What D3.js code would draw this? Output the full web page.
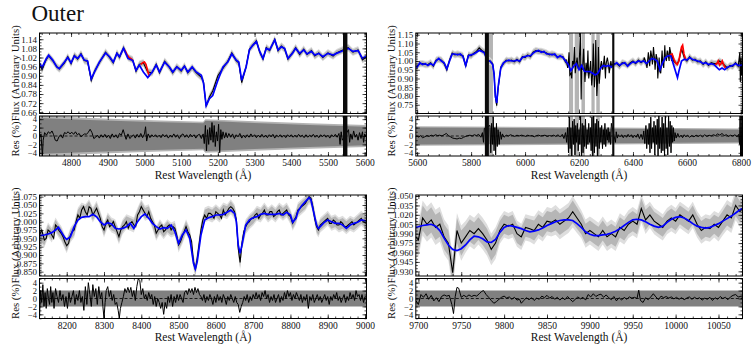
<!DOCTYPE html>
<html>
<head>
<meta charset="utf-8">
<script src="https://cdn.jsdelivr.net/npm/d3@7"></script>
<style>
  body { margin: 0; background: #fff; }
</style>
</head>
<body>
<div id="chart"></div>
<script>
// ---------- values ----------

// panel 1 : 4712 - 5605 A
const p1Wave = [
  4712,4721,4732,4739,4750,4761,4768,4782,4791,4800,
  4809,4818,4827,4836,4845,4855,4864,4877,4894,4905,
  4915,4925,4932,4943,4955,4968,4977,4986,4997,5009,
  5021,5032,5041,5055,5068,5077,5088,5100,5109,5118,
  5130,5141,5155,5161,5168,5177,5186,5200,5214,5227,
  5238,5250,5257,5265,5277,5286,5295,5305,5314,5323,
  5332,5341,5355,5364,5373,5382,5391,5403,5412,5423,
  5434,5443,5455,5464,5475,5486,5500,5514,5523,5536,
  5555,5568,5582,5594,5605];
const p1Model = [
  0.99,0.955,1.01,1.035,1.003,0.958,0.947,0.99,1.02,0.985,
  1.03,1.014,1.04,1.003,0.998,0.88,0.925,0.99,1.05,1.025,
  0.99,1.047,1.025,1.08,1.014,1.0,0.936,0.97,0.925,0.888,
  0.925,0.97,0.925,0.99,0.958,0.925,0.958,0.936,0.963,0.925,
  0.958,0.925,0.903,0.85,0.704,0.75,0.77,0.87,0.958,0.99,
  1.043,1.003,0.99,0.87,0.958,1.07,1.10,1.125,1.06,1.014,
  1.08,1.07,1.135,1.07,1.09,1.08,1.014,1.047,1.08,1.047,
  1.07,1.043,1.06,1.036,1.047,1.025,1.047,1.036,1.047,1.06,
  1.08,1.06,1.065,1.014,1.03];
const p1Flux = [
  0.985,0.94,1.005,1.03,1.0,0.96,0.945,0.985,1.025,0.98,
  1.035,1.01,1.045,1.0,0.995,0.87,0.93,0.985,1.055,1.02,
  0.985,1.05,1.02,1.085,1.02,1.005,0.93,0.975,0.985,0.925,
  0.92,0.975,0.92,0.995,0.955,0.92,0.96,0.93,0.965,0.92,
  0.955,0.92,0.89,0.86,0.70,0.76,0.80,0.90,0.95,0.995,
  1.05,1.0,0.985,0.855,0.96,1.075,1.10,1.13,1.055,1.01,
  1.085,1.065,1.14,1.065,1.095,1.075,1.01,1.05,1.085,1.04,
  1.075,1.04,1.065,1.03,1.05,1.02,1.05,1.03,1.05,1.065,
  1.085,1.055,1.07,1.005,1.025];
const p1Red = [
  [[4946,1.07],[4952,1.04],[4958,1.02],[4964,1.01],[4968,1.002]],
  [[4990,0.975],[4995,0.985],[5000,0.99],[5004,0.975],[5009,0.93],[5014,0.895]]];
const p1Bad = [[5541,5553]];
const p1Band = [[4712,4.3,4.9],[4850,3.8,4.3],[5000,3.4,3.8],[5160,3.0,3.4],[5166,3.6,4.0],
  [5300,3.1,3.5],[5450,2.6,3.0],[5605,2.2,2.6]];
const p1Res = [
  [4714,-0.5],[4718,0.5],[4722,-4.9],[4724,-1],[4728,0.8],[4733,0.2],[4738,1.0],[4743,0.6],[4748,1.2],[4752,0.4],
  [4757,-1.0],[4762,-1.2],[4767,-0.2],[4772,0.3],[4777,-0.5],[4782,0.8],[4787,0.6],[4792,1.0],[4797,0.5],[4802,0.9],
  [4807,0.4],[4812,1.0],[4817,0.3],[4822,0.6],[4827,-0.2],[4832,0.2],[4837,0.5],[4842,0.4],[4847,0.9],[4852,1.6],
  [4857,0.8],[4862,-0.6],[4867,-0.3],[4872,0.2],[4877,-0.5],[4882,0.3],[4887,-0.3],[4892,0.4],[4897,-0.4],[4902,0.2],
  [4907,-0.6],[4912,0.5],[4917,-0.3],[4922,0.3],[4927,-0.5],[4932,0.6],[4937,0.2],[4942,1.5],[4946,0.3],[4950,-0.8],
  [4955,0.5],[4960,-0.6],[4965,-0.2],[4970,0.3],[4975,-0.5],[4980,0.4],[4985,-0.3],[4990,0.6],[4995,-0.4],[5000,0.5],
  [5003,2.2],[5006,-1.2],[5010,0.5],[5015,-0.4],[5020,0.3],[5025,-0.2],[5030,0.3],[5035,-0.3],[5040,0.2],[5045,-0.4],
  [5050,0.4],[5055,-0.2],[5060,0.3],[5065,-0.5],[5070,0.2],[5075,-0.3],[5080,0.5],[5085,-0.3],[5090,0.3],[5095,-0.6],
  [5100,0.2],[5105,0.5],[5110,-0.3],[5115,0.3],[5120,-0.4],[5125,0.4],[5130,-0.2],[5135,0.3],[5140,-0.5],[5145,0.2],
  [5150,0.4],[5155,-0.6],[5160,0.5],[5163,-1.8],[5166,2.5],[5169,-3.5],[5172,1.5],[5175,-2.0],[5178,2.0],[5181,-1.0],
  [5184,3.2],[5187,-1.5],[5190,2.5],[5193,-2.5],[5196,1.0],[5199,-1.2],[5202,2.8],[5205,-4.0],[5208,1.5],[5211,-0.8],
  [5214,1.0],[5218,-0.5],[5222,0.8],[5226,-0.4],[5230,0.6],[5235,-0.3],[5240,0.5],[5245,-0.6],[5250,0.3],[5255,-0.2],
  [5260,0.6],[5265,-0.5],[5270,0.2],[5275,-0.4],[5280,0.3],[5285,-0.3],[5290,0.5],[5295,-0.2],[5300,0.3],[5305,-0.4],
  [5310,0.2],[5315,-0.3],[5320,0.4],[5325,-0.3],[5330,0.2],[5335,-0.4],[5340,0.3],[5345,-0.2],[5350,0.4],[5355,-0.5],
  [5360,0.2],[5365,-0.2],[5370,0.3],[5375,-0.3],[5380,0.2],[5385,-0.4],[5390,0.3],[5395,-0.2],[5400,0.3],[5405,-0.3],
  [5410,0.2],[5415,-0.3],[5420,0.4],[5425,-0.2],[5430,0.2],[5435,-0.4],[5440,0.3],[5445,-0.3],[5450,0.2],[5455,-0.2],
  [5460,0.4],[5465,-0.3],[5470,0.2],[5475,-0.4],[5480,0.3],[5485,-0.2],[5490,0.3],[5495,-0.3],[5500,0.2],[5505,-0.5],
  [5510,0.3],[5515,-0.2],[5520,0.4],[5525,-0.3],[5530,0.6],[5533,-2.0],[5536,1.0],[5539,-1.0],[5556,1.5],[5559,-1.5],
  [5562,0.5],[5566,-0.8],[5570,1.2],[5574,-0.3],[5578,0.4],[5582,-1.0],[5586,0.8],[5590,-0.6],[5594,1.0],[5597,-1.5],
  [5600,0.5],[5604,-0.2]];
const p1XTicks = [4800,4900,5000,5100,5200,5300,5400,5500,5600];
const p1YTicks = [0.66,0.72,0.78,0.84,0.90,0.96,1.02,1.08,1.14];

// panel 2 : 5595 - 6806 A
const p2Wave = [
  5595,5600,5610,5620,5630,5640,5650,5660,5670,5680,
  5690,5700,5710,5720,5730,5740,5750,5760,5770,5780,
  5790,5800,5810,5820,5830,5840,5850,5860,5870,5880,
  5885,5890,5895,5900,5910,5920,5930,5940,5950,5960,
  5970,5980,5990,6000,6010,6020,6030,6040,6050,6060,
  6070,6080,6090,6100,6110,6120,6130,6140,6150,6160,
  6170,6180,6190,6200,6210,6220,6230,6240,6250,6260,
  6270,6280,6290,6300,6310,6320,6330,6340,6350,6360,
  6370,6380,6390,6400,6410,6420,6430,6440,6450,6460,
  6470,6480,6490,6500,6510,6520,6530,6540,6550,6560,
  6565,6570,6580,6590,6600,6610,6620,6630,6640,6650,
  6660,6670,6680,6690,6700,6710,6720,6730,6740,6750,
  6760,6770,6780,6790,6800,6806];
const p2Model = [
  0.97,0.965,0.99,0.98,0.985,0.975,0.985,0.975,1.0,1.015,
  1.0,0.99,0.955,1.0,1.04,1.04,1.035,1.04,1.025,0.975,
  1.03,1.035,1.04,1.05,1.06,1.055,1.045,1.0,1.0,0.98,
  0.93,0.80,0.76,0.85,0.96,0.99,1.0,1.005,1.0,1.0,
  1.005,1.0,1.02,1.025,1.03,1.03,1.045,1.055,1.06,1.05,
  1.055,1.04,1.04,1.035,1.04,1.02,1.03,1.02,1.0,0.98,
  0.945,0.97,0.985,0.95,0.975,0.94,0.94,0.94,0.93,0.92,
  0.93,0.96,0.975,0.97,0.975,0.965,0.98,0.99,0.975,0.985,
  0.99,0.97,0.985,0.995,0.99,1.0,0.995,1.0,0.985,1.0,
  1.015,1.01,1.0,0.95,0.99,1.02,1.03,1.03,0.98,0.93,
  0.905,0.94,1.0,1.01,1.005,1.02,1.01,1.005,1.0,0.995,
  0.985,0.99,0.98,0.985,0.98,0.965,0.95,0.96,0.95,0.965,
  0.97,0.975,0.985,0.975,0.975,0.98];
const p2Flux = [
  0.965,0.97,0.985,0.985,0.98,0.98,0.99,0.97,1.005,1.01,
  1.005,0.985,0.95,1.005,1.045,1.035,1.04,1.035,1.03,0.97,
  1.035,1.03,1.045,1.055,1.075,1.06,1.05,1.0,1.0,0.985,
  0.925,0.79,0.745,0.84,0.965,0.985,1.005,1.0,1.005,0.995,
  1.01,0.995,1.025,1.02,1.035,1.025,1.05,1.06,1.055,1.055,
  1.05,1.045,1.035,1.04,1.035,1.025,1.025,1.025,0.995,0.985,
  0.93,0.98,0.99,0.96,0.97,0.95,0.93,0.95,0.92,0.93,
  0.92,0.97,0.97,0.98,0.97,0.975,0.985,0.985,0.97,0.99,
  0.985,0.975,0.99,1.0,0.985,1.005,0.99,1.005,0.98,1.005,
  1.02,1.005,1.005,0.94,1.0,1.025,1.04,1.045,1.0,0.985,
  0.99,1.0,1.07,1.02,1.0,1.025,1.005,1.01,0.995,1.0,
  0.98,0.995,0.975,0.99,0.985,0.985,1.0,0.99,0.975,0.96,
  0.975,0.97,0.99,0.97,0.98,0.95];
const p2Spikes = [
  [6152,1.01],[6158,0.96],[6163,1.05],[6166,0.92],[6173,0.90],[6176,1.0],[6183,1.08],[6186,0.93],
  [6193,1.02],[6196,0.96],[6205,1.16],[6208,0.78],[6213,0.95],[6217,1.07],[6222,0.88],[6226,0.99],
  [6233,1.06],[6236,0.90],[6243,1.0],[6247,0.86],[6253,1.10],[6257,0.85],[6262,1.12],[6266,0.80],
  [6272,1.08],[6275,0.87],[6283,1.0],[6287,0.95],[6294,1.03],[6298,0.90],[6305,1.02],[6312,0.93],
  [6318,1.0],[6442,1.02],[6452,0.96],[6457,1.05],[6462,0.97],[6466,1.06],[6472,0.98],[6476,1.08],
  [6482,0.95],[6486,1.04],[6492,0.90],[6497,1.02],[6503,0.93],[6508,1.06],[6514,0.96],[6518,1.09],
  [6524,1.0],[6527,1.06],[6534,1.0],[6536,1.08],[6543,1.0],[6546,1.04],[6796,1.05],[6798,0.88],
  [6801,1.02],[6803,0.92]];
const p2Red = [
  [[6535,1.03],[6545,1.04],[6552,1.01],[6558,0.99],[6564,0.98],[6570,1.0],[6576,1.05],[6580,1.08],
   [6584,1.09],[6589,1.04],[6595,1.01],[6600,1.005]],
  [[6705,0.98],[6711,0.985],[6716,1.0],[6721,0.975],[6727,0.985],[6731,1.0],[6736,0.98],[6742,0.96]]];
const p2Mask = [[5866,5881],[6163,6178],[6184,6200],[6209,6222],[6246,6258],[6264,6277]];
const p2Bad = [[5851,5866],[6323,6331]];
const p2Band = [[5595,2.0,2.3],[6200,1.8,2.1],[6806,1.5,1.8]];
const p2Res = [
  [5598,0.2],[5605,-0.3],[5612,0.1],[5620,-0.4],[5628,-0.2],[5636,0.1],[5644,-0.1],[5652,0.2],[5660,0.0],[5668,0.3],
  [5676,0.1],[5684,0.2],[5692,0.0],[5700,0.3],[5708,0.6],[5716,0.1],[5724,-0.2],[5732,-0.5],[5740,-0.6],[5748,-0.7],
  [5756,-0.5],[5764,-0.6],[5772,-0.3],[5780,-0.1],[5788,0.1],[5796,0.2],[5804,0.0],[5812,0.3],[5820,0.1],[5828,0.4],
  [5836,-0.3],[5842,0.8],[5846,-1.5],[5849,1.8],[5870,2.5],[5873,-4],[5876,3],[5879,-2],[5882,4.5],[5885,-3.5],
  [5888,2],[5891,-4.5],[5894,3],[5897,-2.5],[5900,1.5],[5904,-2],[5908,1],[5912,-0.8],[5916,0.5],[5922,-0.3],
  [5930,0.2],[5938,0.0],[5946,0.3],[5954,0.1],[5962,-0.1],[5970,0.2],[5978,0.0],[5986,0.2],[5994,0.1],[6002,-0.1],
  [6010,0.2],[6018,0.0],[6026,0.1],[6034,-0.2],[6042,0.1],[6050,0.2],[6058,0.0],[6066,0.1],[6074,0.2],[6082,-0.1],
  [6090,0.1],[6098,0.0],[6106,0.2],[6114,-0.1],[6122,0.3],[6130,-0.2],[6138,0.4],[6144,-0.6],[6150,0.8],[6154,-1.5],
  [6158,2],[6161,-4],[6164,4.5],[6167,-3],[6170,2],[6173,-5],[6176,3.5],[6179,-2],[6182,4],[6185,-4.5],
  [6188,2.5],[6191,-1.5],[6194,3],[6197,-3.5],[6200,1.5],[6203,-2],[6206,5],[6209,-5],[6212,3],[6215,-4],
  [6218,2.5],[6221,-2.5],[6224,4],[6227,-3],[6230,1.5],[6233,-2],[6236,3],[6239,-1.5],[6242,2],[6245,-3.5],
  [6248,4.5],[6251,-5],[6254,5],[6257,-4],[6260,3],[6263,-2.5],[6266,4],[6269,-5],[6272,3.5],[6275,-3],
  [6278,2],[6281,-1.5],[6284,2.5],[6287,-3],[6290,1.5],[6293,-2],[6296,3],[6299,-2.5],[6302,1.5],[6305,-1],
  [6308,2],[6311,-1.5],[6314,1],[6317,-2],[6320,3],[6335,-1.5],[6338,1],[6342,-0.5],[6346,0.3],[6352,-0.2],
  [6358,0.3],[6364,-0.4],[6370,0.2],[6376,-0.3],[6382,0.4],[6388,-0.2],[6394,0.3],[6400,-0.4],[6406,0.2],[6412,-0.3],
  [6418,0.5],[6424,-0.6],[6430,0.4],[6436,-0.8],[6440,1.2],[6444,-1.8],[6448,2.5],[6451,-3],[6454,1.5],[6457,-2],
  [6460,3],[6463,-4],[6466,4.5],[6469,-3],[6472,2],[6475,-1.5],[6478,3.5],[6481,-4.5],[6484,2.5],[6487,-2],
  [6490,4],[6493,-5],[6496,5],[6499,-3],[6502,2],[6505,-4],[6508,4.5],[6511,-3.5],[6514,3],[6517,-5],
  [6520,5],[6523,-3],[6526,2],[6529,-4.5],[6532,5],[6535,-2.5],[6538,3.5],[6541,-4],[6544,2.5],[6547,-1.5],
  [6550,2],[6553,-1.2],[6556,0.8],[6560,-0.5],[6566,0.6],[6572,-0.3],[6578,0.2],[6584,-0.4],[6590,0.3],[6596,-0.2],
  [6602,0.2],[6610,-0.3],[6618,0.1],[6626,-0.2],[6634,0.2],[6642,-0.1],[6650,0.2],[6658,-0.2],[6666,0.3],[6674,-0.1],
  [6682,0.2],[6690,0.0],[6698,0.3],[6706,0.1],[6714,0.5],[6722,0.2],[6730,0.6],[6738,0.1],[6746,0.3],[6754,-0.1],
  [6762,0.2],[6770,0.0],[6778,0.3],[6786,-0.2],[6792,0.4],[6795,-2],[6797,5],[6799,-5],[6801,5],[6803,-5],[6805,3]];
const p2XTicks = [5600,5800,6000,6200,6400,6600,6800];
const p2YTicks = [0.75,0.80,0.85,0.90,0.95,1.00,1.05,1.10,1.15];

// panel 3 : 8127 - 9004 A
const p3Wave = [
  8127,8140,8150,8160,8170,8178,8185,8195,8200,8210,
  8220,8230,8240,8250,8260,8270,8280,8290,8300,8310,
  8320,8330,8340,8350,8360,8370,8380,8390,8400,8410,
  8420,8430,8440,8450,8460,8470,8480,8490,8500,8510,
  8520,8530,8540,8545,8550,8560,8570,8580,8590,8600,
  8610,8620,8630,8640,8650,8655,8660,8665,8670,8680,
  8690,8700,8710,8720,8730,8740,8750,8760,8770,8780,
  8790,8800,8806,8815,8820,8830,8840,8850,8855,8860,
  8870,8875,8880,8890,8900,8910,8920,8930,8940,8950,
  8960,8970,8980,8990,9004];
const p3Model = [
  0.958,0.96,0.963,0.967,0.975,0.983,0.97,0.952,0.947,0.955,
  0.985,1.005,1.013,1.015,1.015,1.022,1.015,1.0,0.99,0.997,
  0.993,0.98,0.978,0.98,0.985,0.995,0.98,1.0,1.015,1.023,
  1.01,0.995,0.985,0.978,0.982,0.98,0.99,0.97,0.935,0.96,
  0.975,0.95,0.875,0.858,0.88,0.96,1.005,1.012,1.015,1.02,
  1.02,1.022,1.028,1.035,1.025,1.0,0.93,0.905,0.93,0.99,
  1.005,1.012,1.015,1.022,1.025,1.022,1.022,1.022,1.025,1.02,
  1.028,1.02,0.998,1.01,1.03,1.048,1.06,1.072,1.065,1.04,
  0.99,0.98,0.985,0.997,1.005,1.0,0.995,0.995,0.99,0.98,
  0.99,0.995,0.998,1.005,1.002];
const p3Flux = [
  0.96,0.945,0.975,0.96,0.99,0.975,0.965,0.94,0.928,0.96,
  0.975,1.02,1.035,1.03,1.045,1.02,1.04,1.01,0.975,1.005,
  0.99,0.985,0.955,0.985,1.0,0.995,0.99,1.02,1.045,1.025,
  1.03,1.0,0.965,0.985,0.97,0.985,0.975,0.98,0.93,0.955,
  0.985,0.96,0.88,0.856,0.89,0.975,1.02,1.025,1.02,1.03,
  1.02,1.035,1.03,1.045,1.03,1.005,0.92,0.878,0.935,0.985,
  1.0,1.01,1.025,1.02,1.035,1.02,1.03,1.02,1.035,1.025,
  1.035,1.015,0.995,1.015,1.035,1.045,1.055,1.075,1.07,1.045,
  0.985,0.975,0.99,1.0,1.01,0.995,1.0,0.99,0.995,0.985,
  0.995,0.99,1.0,1.01,0.995];
const p3Spikes = [
  [8133,0.975],[8145,0.95],[8155,0.97],[8165,0.95],[8174,0.985],[8190,0.955],[8205,0.935],[8215,0.97],
  [8225,1.0],[8235,1.01],[8245,1.045],[8255,1.02],[8265,1.04],[8275,1.03],[8285,1.025],[8295,0.985],
  [8305,0.995],[8315,0.985],[8325,1.0],[8335,0.97],[8345,0.975],[8355,0.99],[8365,0.98],[8375,1.0],
  [8385,0.985],[8395,1.03],[8405,1.035],[8415,1.015],[8425,1.01],[8435,0.99],[8445,0.975],[8455,0.99],
  [8465,0.975],[8475,0.99],[8485,0.985],[8495,0.96],[8505,0.94],[8515,0.97],[8525,0.97],[8535,0.94],
  [8565,1.005],[8575,1.01],[8585,1.025],[8595,1.01],[8605,1.025],[8615,1.01],[8625,1.02],[8635,1.04],
  [8645,1.04],[8675,0.97],[8685,0.995],[8695,1.01],[8705,1.02],[8715,1.01],[8725,1.025],[8735,1.02],
  [8745,1.03],[8755,1.015],[8765,1.03],[8775,1.02],[8785,1.03],[8795,1.02],[8810,1.005],[8825,1.04],
  [8835,1.05],[8845,1.065],[8865,1.01],[8885,0.995],[8895,1.005],[8905,0.995],[8915,1.005],[8925,0.99],
  [8935,1.0],[8945,0.985],[8955,0.99],[8965,1.0],[8975,0.995],[8985,1.005],[8995,1.0]];
const p3Band = [[8127,2.0,2.0],[9004,2.0,2.0]];
const p3Res = [
  [8127,-4.8],[8130,2],[8133,-1],[8136,3.5],[8139,-2],[8142,1.5],[8145,-2.5],[8148,2.5],[8151,0],[8154,-1.5],
  [8157,3],[8160,-1],[8163,1.5],[8166,-2.5],[8170,2.5],[8174,0.5],[8178,-1],[8182,2],[8186,-0.5],[8190,1],
  [8194,-2],[8198,0.5],[8202,-2.5],[8206,1.5],[8210,-1],[8214,0.5],[8218,2],[8222,-1.5],[8226,1],[8230,-0.5],
  [8234,2],[8238,-1],[8242,0.5],[8246,-3],[8250,3],[8254,-1.5],[8258,4],[8262,1],[8266,-2],[8270,3.5],
  [8274,0.5],[8278,2.5],[8282,-1.5],[8286,3],[8290,0],[8294,1.5],[8297,-2],[8300,-5],[8303,-1],[8306,2],
  [8310,3],[8314,0.5],[8318,2],[8322,-0.5],[8326,1],[8330,-1.5],[8334,-1],[8338,-3],[8341,-5],[8344,-2.5],
  [8348,-1],[8352,0.5],[8356,2.5],[8360,1.5],[8364,2.8],[8368,1.5],[8372,2.8],[8376,0.5],[8380,2],[8384,-0.5],
  [8388,3],[8392,5],[8396,4.5],[8400,1],[8404,2.5],[8408,0],[8412,1],[8416,-0.5],[8420,1.5],[8424,0],
  [8428,1],[8432,-1.5],[8436,0.5],[8440,-2],[8444,0],[8448,-1],[8452,-2.5],[8456,-1],[8460,-4],[8464,-1],
  [8468,-2.5],[8472,0.5],[8476,-1],[8480,1],[8484,-2],[8488,0.5],[8492,-1],[8496,1],[8500,-0.5],[8504,1],
  [8508,0],[8512,-1],[8516,1.5],[8520,2],[8524,1],[8528,2.5],[8532,1.5],[8536,2.5],[8540,1],[8544,2.8],
  [8548,1.5],[8552,2.5],[8556,1],[8560,0.5],[8564,-0.5],[8568,1],[8572,-1],[8576,0.5],[8580,-0.5],[8584,1],
  [8588,0],[8592,-1.5],[8596,0.5],[8600,-1],[8604,1],[8608,-0.5],[8612,0.5],[8616,-1],[8620,1],[8624,0],
  [8628,-1.5],[8632,0.5],[8636,-0.5],[8640,1],[8644,0],[8648,-1],[8652,0.5],[8656,-1],[8660,-1.5],[8664,-3.5],
  [8668,-2],[8672,-1],[8676,0.5],[8680,-0.5],[8684,1],[8688,-1],[8692,0.5],[8696,-0.5],[8700,1],[8704,0],
  [8708,1.5],[8712,0],[8716,1],[8720,-0.5],[8724,1.5],[8728,0.5],[8732,2],[8736,0],[8740,1],[8744,-1],
  [8748,0.5],[8752,-0.5],[8756,1],[8760,-1],[8764,0],[8768,1],[8772,-1],[8776,0.5],[8780,-0.5],[8784,1.5],
  [8788,0],[8792,2],[8796,0.5],[8800,1.5],[8804,-0.5],[8808,1],[8812,0],[8816,1.5],[8820,0.5],[8824,-0.5],
  [8828,1],[8832,-1],[8836,0.5],[8840,-0.5],[8844,1],[8848,-2.5],[8852,0.5],[8856,-0.5],[8860,1],[8864,-1],
  [8868,0],[8872,1],[8876,-0.5],[8880,0.5],[8884,-1],[8888,0],[8892,1],[8896,-0.5],[8900,0.5],[8904,-1.5],
  [8908,0.5],[8912,-0.5],[8916,1],[8920,0],[8924,1.5],[8928,-0.5],[8932,0.5],[8936,-1],[8940,0],[8944,1],
  [8948,-1],[8952,0.5],[8956,-0.5],[8960,1.5],[8964,0],[8968,1],[8972,-0.5],[8976,2],[8980,0.5],[8984,1],
  [8988,-0.5],[8992,1],[8996,-1],[9000,0.5],[9004,0.2]];
const p3XTicks = [8200,8300,8400,8500,8600,8700,8800,8900,9000];
const p3YTicks = [0.850,0.875,0.900,0.925,0.950,0.975,1.000,1.025,1.050,1.075];

// panel 4 : 9697 - 10078 A
const p4Wave = [
  9697,9700,9705,9710,9715,9720,9725,9730,9735,9740,
  9745,9750,9755,9760,9765,9770,9775,9780,9785,9790,
  9795,9800,9805,9810,9815,9820,9825,9830,9835,9840,
  9845,9850,9855,9860,9865,9870,9875,9880,9885,9890,
  9895,9900,9905,9910,9915,9920,9925,9930,9935,9940,
  9945,9950,9955,9960,9965,9970,9975,9980,9985,9990,
  9995,10000,10005,10010,10015,10020,10025,10030,10035,10040,
  10045,10050,10055,10060,10065,10070,10075,10078];
const p4Model = [
  1.000,1.001,1.003,1.004,1.005,1.002,0.995,0.983,0.972,0.965,
  0.963,0.966,0.972,0.980,0.986,0.985,0.982,0.977,0.976,0.981,
  0.992,1.000,1.003,1.002,1.000,0.998,0.995,0.993,0.994,0.996,
  0.999,1.003,1.006,1.009,1.011,1.012,1.012,1.011,1.006,1.000,
  0.993,0.989,0.987,0.987,0.988,0.989,0.991,0.994,0.998,1.003,
  1.008,1.012,1.013,1.012,1.009,1.005,1.002,1.000,1.002,1.008,
  1.013,1.016,1.017,1.015,1.011,1.006,1.002,1.000,0.999,1.000,
  1.003,1.006,1.010,1.014,1.018,1.023,1.028,1.030];
const p4Flux = [
  0.985,0.98,1.015,1.005,1.012,1.0,1.005,0.985,0.975,0.928,
  0.995,0.975,0.985,0.995,0.99,0.998,0.99,0.98,0.965,0.975,
  0.995,1.005,1.002,1.005,0.99,0.985,1.0,0.998,0.995,1.005,
  1.0,1.01,1.008,1.012,1.005,1.01,1.015,1.025,1.015,1.005,
  0.99,0.995,0.99,0.985,0.995,0.985,0.99,0.985,1.0,0.995,
  1.005,1.01,1.005,1.03,1.012,1.02,1.01,1.005,1.0,1.01,
  1.015,1.01,1.02,1.015,1.01,1.02,1.005,0.995,1.0,0.998,
  1.005,1.0,1.01,1.02,1.015,1.035,1.025,1.03];
const p4Err = [
  0.02,0.02,0.02,0.02,0.02,0.02,0.02,0.02,0.02,0.02,
  0.02,0.02,0.018,0.018,0.018,0.018,0.018,0.018,0.018,0.018,
  0.015,0.015,0.015,0.015,0.015,0.015,0.015,0.015,0.016,0.016,
  0.016,0.016,0.016,0.017,0.017,0.017,0.017,0.018,0.017,0.016,
  0.016,0.016,0.016,0.016,0.016,0.016,0.016,0.016,0.016,0.016,
  0.016,0.016,0.016,0.016,0.016,0.015,0.015,0.015,0.015,0.015,
  0.015,0.015,0.015,0.015,0.015,0.015,0.015,0.015,0.015,0.015,
  0.015,0.016,0.016,0.017,0.017,0.017,0.017,0.017];
const p4Band = [[9697,2.0,2.0],[10078,2.0,2.0]];
const p4Res = [
  [9697,-0.5],[9700,-1.5],[9703,1.0],[9706,0.3],[9709,1.2],[9712,-0.2],[9715,0.8],[9718,-0.6],[9721,0.2],[9724,-0.8],
  [9727,0.5],[9730,0.9],[9733,0.6],[9736,0.8],[9739,-1.5],[9741,-3.8],[9743,0.5],[9745,2.8],[9747,2.6],[9750,0.3],
  [9753,0.8],[9756,0.4],[9759,0.9],[9762,0.5],[9765,0.8],[9768,0.6],[9771,1.2],[9774,1.8],[9776,2.0],[9779,1.0],
  [9782,0.3],[9785,-0.5],[9788,-1.2],[9791,-0.8],[9794,-0.2],[9797,0.3],[9800,0.6],[9803,0.1],[9806,0.4],[9809,-0.2],
  [9812,0.3],[9815,-0.4],[9818,-0.2],[9820,-1.2],[9823,-0.5],[9826,0.2],[9829,-0.3],[9832,0.2],[9835,-0.5],[9838,0.1],
  [9841,-0.2],[9844,0.6],[9847,0.2],[9850,0.8],[9853,0.1],[9856,0.5],[9859,-0.2],[9862,0.3],[9865,-0.4],[9868,0.2],
  [9871,-0.3],[9874,0.5],[9877,-0.2],[9880,-0.8],[9883,-0.2],[9886,0.4],[9889,-0.1],[9892,0.3],[9895,-0.4],[9898,1.0],
  [9901,0.4],[9904,1.2],[9907,0.5],[9910,0.9],[9913,1.1],[9916,0.3],[9919,0.9],[9922,0.2],[9925,-0.3],[9928,0.5],
  [9931,-0.6],[9934,0.2],[9937,-0.4],[9940,0.3],[9943,-0.2],[9946,0.4],[9949,0.1],[9952,0.3],[9955,0.0],[9957,2.1],
  [9959,-0.5],[9962,-1.0],[9965,0.2],[9968,-0.3],[9971,0.4],[9974,1.2],[9977,0.4],[9980,-0.3],[9983,0.6],[9986,0.2],
  [9989,0.5],[9992,0.1],[9995,0.4],[9998,-0.1],[10001,0.3],[10004,-0.2],[10007,0.2],[10010,-0.3],[10013,0.1],[10016,0.4],
  [10019,-0.2],[10022,0.3],[10025,-0.1],[10028,0.2],[10031,-0.4],[10034,0.1],[10037,-0.2],[10040,0.3],[10043,-0.5],[10046,0.2],
  [10049,-0.2],[10052,0.5],[10055,0.0],[10058,0.3],[10061,-0.3],[10064,0.4],[10067,0.8],[10070,1.0],[10073,0.4],[10076,0.5],
  [10078,0.3]];
const p4XTicks = [9700,9750,9800,9850,9900,9950,10000,10050];
const p4YTicks = [0.930,0.945,0.960,0.975,0.990,1.005,1.020,1.035,1.050];

const resTicks = [-4,-2,0,2,4];

// ---------- layout ----------
const W = 756, H = 348;
const FONT = '"Liberation Serif", serif';
const svg = d3.select("#chart").append("svg").attr("width", W).attr("height", H);
const defs = svg.append("defs");

const rowTop = {top: 33, mid: 113.5, resTop: 116, resBot: 156, resDom: [-4.75, 4.75], xlab: 179};
const rowBot = {top: 195, mid: 276, resTop: 278.5, resBot: 318.5, resDom: [-5.05, 5.05], xlab: 340.5};
const colL = {left: 39.5, right: 366.5, labX: 15.2};
const colR = {left: 415.8, right: 742.5, labX: 391.2};

const panels = [
  {id: "p1", row: rowTop, col: colL, wave: p1Wave, model: p1Model, flux: p1Flux, err: 0.018,
   spikes: [], red: p1Red, mask: [], bad: p1Bad, band: p1Band, res: p1Res,
   xDom: [4714, 5605], yDom: [0.652, 1.181], xTicks: p1XTicks, xMinor: 20,
   yTicks: p1YTicks, yMinor: 0.02, yFmt: d3.format(".2f")},
  {id: "p2", row: rowTop, col: colR, wave: p2Wave, model: p2Model, flux: p2Flux, err: 0.015,
   spikes: p2Spikes, red: p2Red, mask: p2Mask, bad: p2Bad, band: p2Band, res: p2Res,
   xDom: [5595, 6806], yDom: [0.70, 1.16], xTicks: p2XTicks, xMinor: 40,
   yTicks: p2YTicks, yMinor: 0.01, yFmt: d3.format(".2f")},
  {id: "p3", row: rowBot, col: colL, wave: p3Wave, model: p3Model, flux: p3Flux, err: 0.016,
   spikes: p3Spikes, red: [], mask: [], bad: [], band: p3Band, res: p3Res,
   xDom: [8127, 9004], yDom: [0.837, 1.080], xTicks: p3XTicks, xMinor: 20,
   yTicks: p3YTicks, yMinor: 0.005, yFmt: d3.format(".3f")},
  {id: "p4", row: rowBot, col: colR, wave: p4Wave, model: p4Model, flux: p4Flux, err: p4Err,
   spikes: [], red: [], mask: [], bad: [], band: p4Band, res: p4Res,
   xDom: [9697, 10078], yDom: [0.9226, 1.0516], xTicks: p4XTicks, xMinor: 10,
   yTicks: p4YTicks, yMinor: 0.005, yFmt: d3.format(".3f")}
];

function minorTicks(dom, step) {
  const a = Math.ceil(dom[0] / step - 1e-9), b = Math.floor(dom[1] / step + 1e-9);
  return d3.range(a, b + 1).map(k => +(k * step).toFixed(6));
}

const noLabel = () => "";

function putAxis(axis, tr, size) {
  const g = svg.append("g").attr("transform", tr).call(axis);
  g.select(".domain").remove();
  g.attr("font-family", null);
  g.selectAll("line").attr("stroke", "#000").attr("stroke-width", 0.7);
  g.selectAll("text").style("font-size", (size || 9) + "px").style("fill", "#111").style("font-family", FONT);
  return g;
}

// ticks on all four sides, pointing inward, plus a frame
function frame(x, y, yT, yB, p, yMaj, yMinStep, yFmt, xLabels, ySize) {
  const [L, R] = x.range();
  const xMin = minorTicks(x.domain(), p.xMinor);
  const yMin = minorTicks(y.domain(), yMinStep);
  putAxis(d3.axisBottom(x).tickValues(p.xTicks).tickSize(-4).tickPadding(3.5)
    .tickFormat(xLabels ? d3.format("d") : noLabel), `translate(0,${yB})`, 9.5);
  putAxis(d3.axisBottom(x).tickValues(xMin).tickSize(-2).tickFormat(noLabel), `translate(0,${yB})`);
  putAxis(d3.axisTop(x).tickValues(p.xTicks).tickSize(-4).tickFormat(noLabel), `translate(0,${yT})`);
  putAxis(d3.axisTop(x).tickValues(xMin).tickSize(-2).tickFormat(noLabel), `translate(0,${yT})`);
  putAxis(d3.axisLeft(y).tickValues(yMaj).tickSize(-4).tickPadding(2.5).tickFormat(yFmt), `translate(${L},0)`, ySize);
  putAxis(d3.axisLeft(y).tickValues(yMin).tickSize(-2).tickFormat(noLabel), `translate(${L},0)`);
  putAxis(d3.axisRight(y).tickValues(yMaj).tickSize(-4).tickFormat(noLabel), `translate(${R},0)`);
  putAxis(d3.axisRight(y).tickValues(yMin).tickSize(-2).tickFormat(noLabel), `translate(${R},0)`);
  svg.append("rect").attr("x", L).attr("y", yT).attr("width", R - L).attr("height", yB - yT)
    .attr("fill", "none").attr("stroke", "#000").attr("stroke-width", 1);
}

function clipGroup(id, x0, y0, x1, y1) {
  defs.append("clipPath").attr("id", id).append("rect")
    .attr("x", x0).attr("y", y0).attr("width", x1 - x0).attr("height", y1 - y0);
  return svg.append("g").attr("clip-path", `url(#${id})`);
}

function label(txt, size) {
  return svg.append("text").style("font-family", FONT).style("font-size", size + "px")
    .style("fill", "#111").text(txt);
}

function drawPanel(p) {
  const r = p.row, c = p.col;
  const x = d3.scaleLinear().domain(p.xDom).range([c.left, c.right]);
  const y = d3.scaleLinear().domain(p.yDom).range([r.mid, r.top]);
  const yr = d3.scaleLinear().domain(r.resDom).range([r.resBot, r.resTop]);

  const gt = clipGroup(p.id + "t", c.left, r.top, c.right, r.mid);
  const gr = clipGroup(p.id + "r", c.left, r.resTop, c.right, r.resBot);

  // masked columns
  p.mask.forEach(m => {
    [[gt, r.top, r.mid], [gr, r.resTop, r.resBot]].forEach(([g, a, b]) =>
      g.append("rect").attr("x", x(m[0])).attr("width", x(m[1]) - x(m[0]))
        .attr("y", a).attr("height", b - a).attr("fill", "#b4b4b4"));
  });

  const rows = p.wave.map((w, i) => ({
    w: w, m: p.model[i], f: p.flux[i], e: Array.isArray(p.err) ? p.err[i] : p.err
  }));

  // error envelope round the data
  gt.append("path").datum(rows)
    .attr("d", d3.area().x(d => x(d.w)).y0(d => y(d.f - 1.4 * d.e)).y1(d => y(d.f + 1.4 * d.e)))
    .attr("fill", "#dedede");
  gt.append("path").datum(rows)
    .attr("d", d3.area().x(d => x(d.w)).y0(d => y(d.f - d.e)).y1(d => y(d.f + d.e)))
    .attr("fill", "#b6b6b6");

  // observed spectrum
  const obs = rows.map(d => [d.w, d.f]).concat(p.spikes).sort((a, b) => a[0] - b[0]);
  const line = d3.line().x(d => x(d[0])).y(d => y(d[1]));
  gt.append("path").datum(obs).attr("d", line)
    .attr("fill", "none").attr("stroke", "#000").attr("stroke-width", 1.1);

  // emission-line fit
  p.red.forEach(seg => gt.append("path").datum(seg).attr("d", line)
    .attr("fill", "none").attr("stroke", "#ff0000").attr("stroke-width", 1.7));

  // stellar model
  gt.append("path").datum(rows)
    .attr("d", d3.line().x(d => x(d.w)).y(d => y(d.m)))
    .attr("fill", "none").attr("stroke", "#0000ff").attr("stroke-width", 1.7);

  // residual band
  const outer = p.band.some(b => b[2] > b[1]);
  if (outer) {
    gr.append("path").datum(p.band)
      .attr("d", d3.area().x(d => x(d[0])).y0(d => yr(-d[2])).y1(d => yr(d[2])))
      .attr("fill", "#b4b4b4");
  }
  gr.append("path").datum(p.band)
    .attr("d", d3.area().x(d => x(d[0])).y0(d => yr(-d[1])).y1(d => yr(d[1])))
    .attr("fill", "#808080");
  gr.append("line").attr("x1", c.left).attr("x2", c.right).attr("y1", yr(0)).attr("y2", yr(0))
    .attr("stroke", "#000").attr("stroke-width", 0.8).attr("stroke-dasharray", "3,2");
  gr.append("path").datum(p.res)
    .attr("d", d3.line().x(d => x(d[0])).y(d => yr(d[1])))
    .attr("fill", "none").attr("stroke", "#000").attr("stroke-width", 1);

  // bad pixel regions
  p.bad.forEach(b => {
    [[gt, r.top, r.mid], [gr, r.resTop, r.resBot]].forEach(([g, a, bb]) =>
      g.append("rect").attr("x", x(b[0])).attr("width", x(b[1]) - x(b[0]))
        .attr("y", a).attr("height", bb - a).attr("fill", "#0a0a0a"));
  });

  frame(x, y, r.top, r.mid, p, p.yTicks, p.yMinor, p.yFmt, false, 9);
  const resFmt = d => (d < 0 ? "\u2212" + Math.abs(d) : String(d));
  frame(x, yr, r.resTop, r.resBot, p, resTicks, 1, resFmt, true, 8.5);

  // axis titles
  const cx = (c.left + c.right) / 2;
  label("Rest Wavelength (\u00c5)", 11.5).attr("x", cx).attr("y", r.xlab).attr("text-anchor", "middle");
  label("Flux (Arbitrary Units)", 10.8)
    .attr("transform", `translate(${c.labX},${(r.top + r.mid) / 2}) rotate(-90)`)
    .attr("text-anchor", "middle").attr("dy", "0.35em");
  label("Res (%)", 10.8)
    .attr("transform", `translate(${c.labX},${(r.resTop + r.resBot) / 2 + 3}) rotate(-90)`)
    .attr("text-anchor", "middle").attr("dy", "0.35em");
}

panels.forEach(drawPanel);

label("Outer", 23).attr("x", 31.5).attr("y", 20.8);
</script>
</body>
</html>
